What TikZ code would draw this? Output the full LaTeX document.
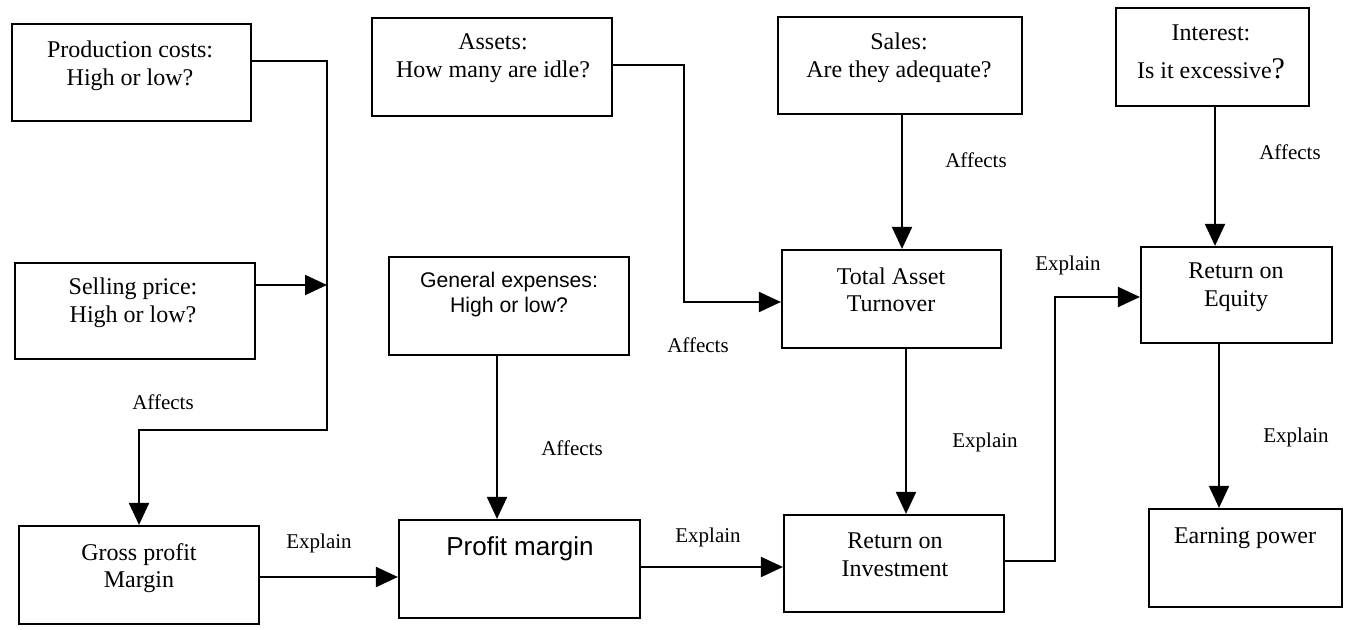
\documentclass[tikz,border=0pt]{standalone}
\usepackage{fontspec}
\setmainfont{Liberation Serif}
\newfontfamily\arialfont{Liberation Sans}
\usetikzlibrary{fit,arrows.meta}
\begin{document}
\begin{tikzpicture}[x=0.5pt,y=-0.5pt,
  box/.style={draw,line width=1.1pt,inner sep=0pt},
  txt/.style={align=center,inner sep=0pt,font=\fontsize{12pt}{13.75pt}\selectfont},
  atxt/.style={align=center,inner sep=0pt,font=\arialfont\fontsize{10.6pt}{12.5pt}\selectfont},
  lbl/.style={inner sep=0pt,font=\fontsize{10.5pt}{12pt}\selectfont},
  arr/.style={line width=1pt,-{Triangle[length=11pt,width=10pt]}}]
\useasboundingbox (0,0) rectangle (1348,630);
\fill[white] (0,0) rectangle (1348,630);
% boxes
\node[box,fit={(12,24) (251,121)}] (pc) {};
\node[box,fit={(15,263) (255,359)}] (sp) {};
\node[box,fit={(372,18) (612,116)}] (as) {};
\node[box,fit={(389,257) (629,355)}] (ge) {};
\node[box,fit={(778,17) (1022,114)}] (sa) {};
\node[box,fit={(1116,8) (1309,106)}] (in) {};
\node[box,fit={(782,250) (1001,348)}] (tat) {};
\node[box,fit={(1141,247) (1332,343)}] (roe) {};
\node[box,fit={(19,526) (259,624)}] (gpm) {};
\node[box,fit={(399,520) (640,618)}] (pm) {};
\node[box,fit={(784,515) (1004,612)}] (roi) {};
\node[box,fit={(1149,509) (1342,607)}] (ep) {};
% box texts
\node[txt] (pct) at (130,66) {Production costs:\\High or low?};
\node[txt] (spt) at (133,303) {Selling price:\\High or low?};
\node[txt] (ast) at (493,58) {Assets:\\How many are idle?};
\node[atxt] (get) at (509,295) {General expenses:\\High or low?};
\node[txt] (sat) at (899,58) {Sales:\\Are they adequate?};
\node[txt] (int) at (1211,52) {Interest:\\[5pt]Is it excessive{\fontsize{15pt}{15pt}\selectfont ?}};
\node[txt] (tatt) at (891,290) {Total Asset\\Turnover};
\node[txt] (roet) at (1236,287) {Return on\\Equity};
\node[txt] (gpmt) at (139,568) {Gross profit\\Margin};
\node[inner sep=0pt,font=\arialfont\fontsize{13pt}{15pt}\selectfont] (pmt) at (520,549) {Profit margin};
\node[txt] (roit) at (895,555) {Return on\\Investment};
\node[txt] (ept) at (1245,538) {Earning power};
% bend coordinates
\coordinate (c1) at (327,61);
\coordinate (c2) at (327,430);
\coordinate (c3) at (327,285);
\coordinate (c4) at (684,65);
\coordinate (c5) at (684,302);
\coordinate (c6) at (497,0);
\coordinate (c7) at (902,0);
\coordinate (c8) at (1215,0);
\coordinate (c9) at (906,0);
\coordinate (c10) at (1055,561);
\coordinate (c11) at (1055,297);
\coordinate (c12) at (1219,0);
\coordinate (c13) at (0,577);
\coordinate (c14) at (0,567);
% connectors
\draw[arr] (pc.east |- c1) -- (c1) -- (c2) -| (gpm.north);
\draw[arr] (sp.east |- c3) -- (c3);
\draw[arr] (as.east |- c4) -- (c4) -- (c5) -- (tat.west |- c5);
\draw[arr] (ge.south -| c6) -- (pm.north -| c6);
\draw[arr] (sa.south -| c7) -- (tat.north -| c7);
\draw[arr] (in.south -| c8) -- (roe.north -| c8);
\draw[arr] (tat.south -| c9) -- (roi.north -| c9);
\draw[arr] (roi.east |- c10) -- (c10) -- (c11) -- (roe.west |- c11);
\draw[arr] (roe.south -| c12) -- (ep.north -| c12);
\draw[arr] (gpm.east |- c13) -- (pm.west |- c13);
\draw[arr] (pm.east |- c14) -- (roi.west |- c14);
% labels
\node[lbl] (l1) at (163,402) {Affects};
\node[lbl] (l2) at (698,345) {Affects};
\node[lbl] (l3) at (572,448) {Affects};
\node[lbl] (l4) at (976,160) {Affects};
\node[lbl] (l5) at (1290,152) {Affects};
\node[lbl] (l6) at (319,543) {Explain};
\node[lbl] (l7) at (708,537) {Explain};
\node[lbl] (l8) at (985,442) {Explain};
\node[lbl] (l9) at (1068,265) {Explain};
\node[lbl] (l10) at (1296,437) {Explain};
\end{tikzpicture}
\end{document}
